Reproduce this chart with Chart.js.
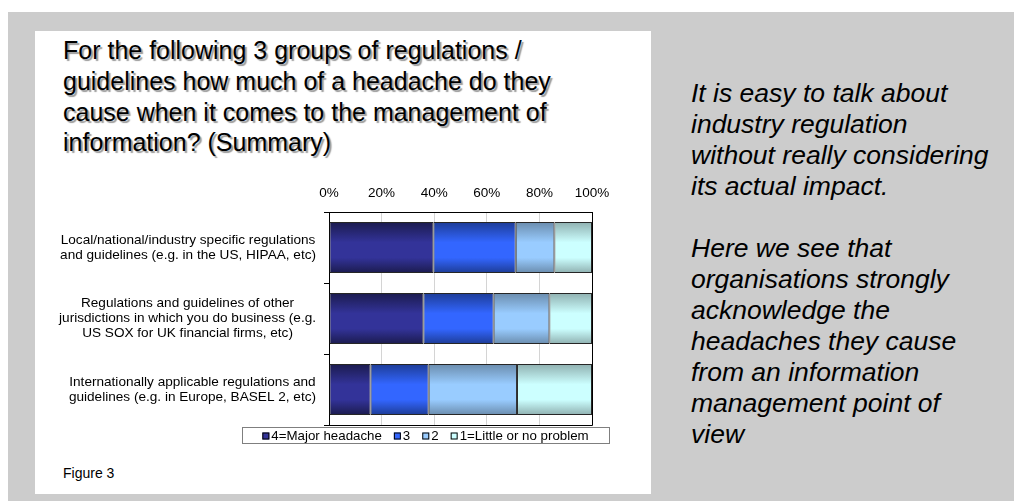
<!DOCTYPE html>
<html>
<head>
<meta charset="utf-8">
<script src="https://cdn.jsdelivr.net/npm/chart.js@4.4.1/dist/chart.umd.min.js"></script>
<style>
  html, body { margin: 0; padding: 0; background: #ffffff; }
  body { width: 1014px; height: 501px; position: relative; overflow: hidden;
         font-family: "Liberation Sans", Arial, sans-serif; color: #000; }
  #backdrop { position: absolute; left: 8px; top: 12px; right: 0; bottom: 0; background: #cccccc; }
  #panel { position: absolute; left: 35px; top: 31px; width: 616px; height: 463px; background: #ffffff; }
  #title { position: absolute; left: 63px; top: 35px; font-size: 25px; line-height: 28.8px;
           text-shadow: 2px 2px 1px #9a9a9a; white-space: nowrap;
           transform: scaleY(1.06); transform-origin: 0 0; }
  #note { position: absolute; left: 691px; top: 78px; font-size: 26.5px; line-height: 31px;
          font-style: italic; white-space: nowrap; }
  #fig { position: absolute; left: 63px; top: 465px; font-size: 14px; }
  #chartBox { position: absolute; left: 35px; top: 170px; width: 616px; height: 290px; }
</style>
</head>
<body>
<div id="backdrop"></div>
<div id="panel"></div>
<div id="title">For the following 3 groups of regulations /<br>guidelines how much of a headache do they<br>cause when it comes to the management of<br>information? (Summary)</div>
<div id="note">It is easy to talk about<br>industry regulation<br>without really considering<br>its actual impact.<br><br>Here we see that<br>organisations strongly<br>acknowledge the<br>headaches they cause<br>from an information<br>management point of<br>view</div>
<div id="fig">Figure 3</div>
<div id="chartBox"><canvas id="chart" width="616" height="290"></canvas></div>

<script>
// Question groups (one horizontal bar each)
const categories = [
  ["Local/national/industry specific regulations", "and guidelines (e.g. in the US, HIPAA, etc)"],
  ["Regulations and guidelines of other", "jurisdictions in which you do business (e.g.", "US SOX for UK financial firms, etc)"],
  ["Internationally applicable regulations and", "guidelines (e.g. in Europe, BASEL 2, etc)"]
];

// Share of respondents per answer, in percent
const seriesLabels = ["4=Major headache", "3", "2", "1=Little or no problem"];
const majorHeadache = [39.7, 35.9, 15.8];
const rating3 = [31.3, 26.7, 22.1];
const rating2 = [14.7, 21.2, 33.6];
const littleOrNone = [14.3, 16.2, 28.5];

const axisTicks = [0, 20, 40, 60, 80, 100];

// Fill colours: face colour and the darker shade at the bar edges
const faceColours = ["#333399", "#3366ff", "#99ccff", "#ccffff"];
const edgeColours = ["#1b1b4e", "#1d3c96", "#6a8cad", "#8fb0b0"];

const BAR_PCT = 0.72;
const FONT = "Liberation Sans, Arial, sans-serif";

function barFill(context, face, edge) {
  const chart = context.chart;
  if (!chart.chartArea || context.type !== "data") return face;
  const y = chart.scales.y;
  if (!y) return face;
  const centre = y.getPixelForValue(context.dataIndex);
  const half = (y.height / categories.length) * BAR_PCT / 2;
  const g = chart.ctx.createLinearGradient(0, centre - half, 0, centre + half);
  g.addColorStop(0, edge);
  g.addColorStop(0.4, face);
  g.addColorStop(0.7, face);
  g.addColorStop(1, edge);
  return g;
}

const seriesValues = [majorHeadache, rating3, rating2, littleOrNone];
const datasets = seriesValues.map((vals, i) => ({
  label: seriesLabels[i],
  data: vals,
  backgroundColor: ctx => barFill(ctx, faceColours[i], edgeColours[i]),
  legendColour: faceColours[i],
  borderColor: "#262626",
  borderWidth: 1,
  borderSkipped: false,
  barPercentage: BAR_PCT,
  categoryPercentage: 1
}));

// Category labels: each block centred on itself, block right-aligned to the axis
const categoryLabels = {
  id: "categoryLabels",
  afterDraw(chart) {
    const ctx = chart.ctx;
    const y = chart.scales.y;
    const right = chart.chartArea.left - 13;
    const lh = 15;
    ctx.save();
    ctx.font = "13.6px " + FONT;
    ctx.fillStyle = "#000";
    ctx.textAlign = "center";
    ctx.textBaseline = "middle";
    categories.forEach((lines, i) => {
      const w = Math.max(...lines.map(l => ctx.measureText(l).width));
      const cx = right - w / 2;
      const cy = y.getPixelForValue(i);
      lines.forEach((l, k) => {
        ctx.fillText(l, cx, cy + (k - (lines.length - 1) / 2) * lh);
      });
    });
    ctx.restore();
  }
};

// Plot frame on the right and bottom sides
const plotFrame = {
  id: "plotFrame",
  afterDatasetsDraw(chart) {
    const { ctx, chartArea: a } = chart;
    ctx.save();
    ctx.strokeStyle = "#000";
    ctx.lineWidth = 1;
    ctx.beginPath();
    ctx.moveTo(a.right + 0.5, a.top);
    ctx.lineTo(a.right + 0.5, a.bottom + 0.5);
    ctx.lineTo(a.left, a.bottom + 0.5);
    ctx.stroke();
    ctx.restore();
  }
};

// Boxed legend under the plot
const boxedLegend = {
  id: "boxedLegend",
  afterDraw(chart) {
    const { ctx, chartArea: a } = chart;
    const boxL = a.left - 87, boxT = a.bottom + 2, boxW = 367, boxH = 16;
    ctx.save();
    ctx.fillStyle = "#fff";
    ctx.fillRect(boxL, boxT, boxW, boxH);
    ctx.strokeStyle = "#7f7f7f";
    ctx.lineWidth = 1;
    ctx.strokeRect(boxL + 0.5, boxT + 0.5, boxW, boxH);
    ctx.font = "13.3px " + FONT;
    ctx.textBaseline = "middle";
    ctx.textAlign = "left";
    const sw = 7, gapAfterSwatch = 2, gapItems = 12;
    const items = chart.data.datasets.map(d => ({ text: d.label, colour: d.legendColour }));
    const total = items.reduce((s, it) => s + sw + gapAfterSwatch + ctx.measureText(it.text).width, 0) + gapItems * (items.length - 1);
    let x = boxL + (boxW - total) / 2;
    const cy = boxT + boxH / 2 + 1;
    items.forEach(it => {
      ctx.fillStyle = it.colour;
      ctx.fillRect(x, cy - sw / 2, sw, sw);
      ctx.strokeStyle = "#000";
      ctx.strokeRect(x + 0.5, cy - sw / 2 + 0.5, sw - 1, sw - 1);
      x += sw + gapAfterSwatch;
      ctx.fillStyle = "#000";
      ctx.fillText(it.text, x, cy);
      x += ctx.measureText(it.text).width + gapItems;
    });
    ctx.restore();
  }
};

new Chart(document.getElementById("chart"), {
  type: "bar",
  data: { labels: categories.map(c => c.join(" ")), datasets },
  plugins: [categoryLabels, plotFrame, boxedLegend],
  options: {
    indexAxis: "y",
    responsive: false,
    animation: false,
    events: [],
    layout: { padding: { top: 0, left: 0, right: 59, bottom: 35 } },
    plugins: { legend: { display: false }, tooltip: { enabled: false } },
    scales: {
      x: {
        position: "top",
        stacked: true,
        min: 0,
        max: 100,
        afterBuildTicks: scale => { scale.ticks = axisTicks.map(v => ({ value: v })); },
        afterFit: scale => { scale.height = 42; },
        ticks: {
          callback: v => v + "%",
          padding: 11,
          color: "#000",
          font: { family: FONT, size: 13.5 },
          maxRotation: 0
        },
        grid: { color: "#d4d4d4", drawTicks: false },
        border: { color: "#000", width: 1 }
      },
      y: {
        stacked: true,
        afterFit: scale => { scale.width = 294; },
        ticks: { display: false },
        grid: { drawOnChartArea: false, offset: true, tickLength: 5, color: "#000" },
        border: { color: "#000", width: 1 }
      }
    }
  }
});
</script>
</body>
</html>
